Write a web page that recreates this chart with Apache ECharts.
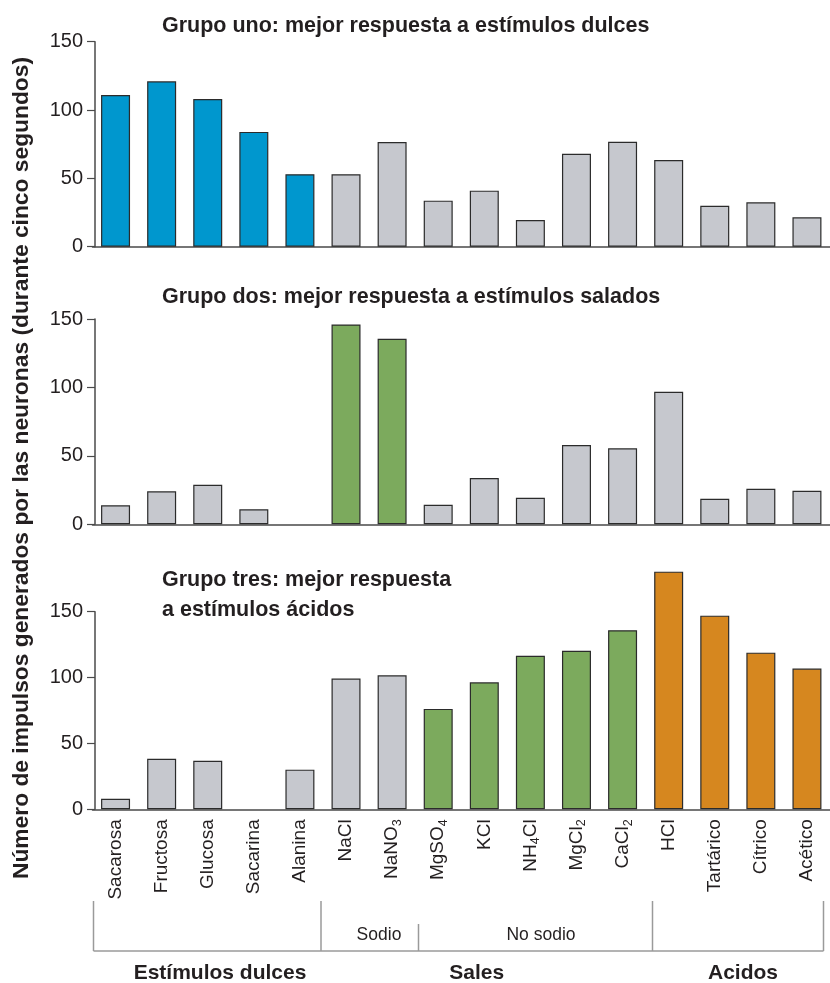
<!DOCTYPE html>
<html>
<head>
<meta charset="utf-8">
<script src="https://cdn.jsdelivr.net/npm/echarts@6/dist/echarts.min.js"></script>
<style>
html,body{margin:0;padding:0;background:#ffffff;}
#chart{width:830px;height:983px;}
</style>
</head>
<body>
<div id="chart"></div>
<script>
// ---------------- DATA ----------------
const categories = ['Sacarosa','Fructosa','Glucosa','Sacarina','Alanina','NaCl','NaNO3','MgSO4','KCl','NH4Cl','MgCl2','CaCl2','HCl','Tartárico','Cítrico','Acético'];
const grupoUno  = [111, 121, 108, 84, 53, 53, 76.6, 33.7, 41, 19.5, 68, 76.8, 63.4, 30, 32.5, 21.5];
const grupoDos  = [13.9, 24.1, 28.9, 11, 0, 146, 135.6, 14.3, 33.8, 19.4, 57.9, 55.5, 96.9, 18.7, 26, 24.5];
const grupoTres = [8, 38.4, 36.9, 0, 30.1, 99.2, 101.7, 76.2, 96.4, 116.6, 120.4, 135.9, 180.4, 147, 118.9, 106.8];
const yTicks = [0, 50, 100, 150];
const titles = [
  'Grupo uno: mejor respuesta a estímulos dulces',
  'Grupo dos: mejor respuesta a estímulos salados',
  'Grupo tres: mejor respuesta\na estímulos ácidos'
];
const yAxisTitle = 'Número de impulsos generados por las neuronas (durante cinco segundos)';
const groupLabels = ['Estímulos dulces', 'Sales', 'Acidos'];
const subGroupLabels = ['Sodio', 'No sodio'];

// ---------------- STYLE ----------------
const FONT = '"Liberation Sans", Arial, Helvetica, sans-serif';
const TXT = '#231f20';
const AX = '#4a4a4a';
const C = {gray:'#c6c8ce', blue:'#0097ce', green:'#7caa5d', orange:'#d6871f'};
// colour role of each category in each panel
const roleUno  = i => i <= 4 ? C.blue : C.gray;
const roleDos  = i => (i === 5 || i === 6) ? C.green : C.gray;
const roleTres = i => i <= 6 ? C.gray : (i <= 11 ? C.green : C.orange);

const gridsLayout = [
  {top: 41.7, height: 205},
  {top: 319, height: 205.3},
  {top: 611.7, height: 197.6}
];

const chart = echarts.init(document.getElementById('chart'), null, {renderer: 'canvas'});

function labelRich(name) {
  return '{n|' + name.replace(/(\d)/g, '}{s|$1}{n|') + '}';
}

const panels = [grupoUno, grupoDos, grupoTres];
const roles = [roleUno, roleDos, roleTres];

const option = {
  animation: false,
  backgroundColor: '#ffffff',
  textStyle: {fontFamily: FONT},
  title: [
    {text: titles[0], left: 162, top: 15.1, padding: 0,
     textStyle: {fontFamily: FONT, fontSize: 21.5, fontWeight: 'bold', color: TXT}},
    {text: titles[1], left: 162, top: 285.8, padding: 0,
     textStyle: {fontFamily: FONT, fontSize: 21.5, fontWeight: 'bold', color: TXT}},
    {text: titles[2], left: 162, top: 565.3, padding: 0,
     textStyle: {fontFamily: FONT, fontSize: 21.5, fontWeight: 'bold', color: TXT, lineHeight: 30}}
  ],
  grid: gridsLayout.map(g => ({left: 92.5, width: 744, top: g.top, height: g.height, containLabel: false})),
  xAxis: [0,1,2].map(i => ({
    type: 'category',
    gridIndex: i,
    data: categories,
    boundaryGap: true,
    axisLine: {show: true, lineStyle: {color: AX, width: 1.5}},
    axisTick: {show: false},
    splitLine: {show: false},
    axisLabel: i === 2 ? {
      show: true, interval: 0, rotate: 90, margin: 10,
      formatter: v => labelRich(v),
      rich: {
        n: {fontFamily: FONT, fontSize: 19, color: TXT, lineHeight: 24},
        s: {fontFamily: FONT, fontSize: 12.5, color: TXT, lineHeight: 12, verticalAlign: 'bottom'}
      }
    } : {show: false}
  })),
  yAxis: [0,1,2].map(i => ({
    type: 'value',
    gridIndex: i,
    min: yTicks[0],
    max: yTicks[yTicks.length - 1],
    interval: yTicks[1] - yTicks[0],
    offset: -2.5,
    axisLine: {show: true, lineStyle: {color: AX, width: 1.5}},
    axisTick: {show: true, length: 8, lineStyle: {color: AX, width: 1.2}},
    splitLine: {show: false},
    axisLabel: {fontFamily: FONT, fontSize: 20, color: TXT, margin: 12}
  })),
  series: panels.map((vals, i) => ({
    type: 'bar',
    xAxisIndex: i,
    yAxisIndex: i,
    barWidth: 29,
    clip: false,
    itemStyle: {borderColor: '#2b2b2b', borderWidth: 1.2},
    data: vals.map((v, k) => ({
      value: v,
      itemStyle: {color: roles[i](k), borderWidth: v === 0 ? 0 : 1.2}
    }))
  })),
  graphic: [
    // Y axis title
    {type: 'text', x: 22, y: 468, rotation: Math.PI / 2,
     style: {text: yAxisTitle, fontFamily: FONT, fontSize: 22.8, fontWeight: 'bold', fill: TXT,
             align: 'center', verticalAlign: 'middle'}},
    // bracket lines
    {type: 'line', shape: {x1: 93.5, y1: 951, x2: 823.5, y2: 951}, style: {stroke: '#9a9a9a', lineWidth: 1.5}},
    {type: 'line', shape: {x1: 93.5, y1: 901, x2: 93.5, y2: 951}, style: {stroke: '#9a9a9a', lineWidth: 1.5}},
    {type: 'line', shape: {x1: 321, y1: 901, x2: 321, y2: 951}, style: {stroke: '#9a9a9a', lineWidth: 1.5}},
    {type: 'line', shape: {x1: 418.5, y1: 924, x2: 418.5, y2: 951}, style: {stroke: '#9a9a9a', lineWidth: 1.5}},
    {type: 'line', shape: {x1: 652.5, y1: 901, x2: 652.5, y2: 951}, style: {stroke: '#9a9a9a', lineWidth: 1.5}},
    {type: 'line', shape: {x1: 823.5, y1: 901, x2: 823.5, y2: 951}, style: {stroke: '#9a9a9a', lineWidth: 1.5}},
    // sub group labels
    {type: 'text', x: 379, y: 935.6, style: {text: subGroupLabels[0], fontFamily: FONT, fontSize: 17.5, fill: TXT, align: 'center', verticalAlign: 'middle'}},
    {type: 'text', x: 541, y: 935.6, style: {text: subGroupLabels[1], fontFamily: FONT, fontSize: 17.5, fill: TXT, align: 'center', verticalAlign: 'middle'}},
    // group labels
    {type: 'text', x: 220, y: 973.7, style: {text: groupLabels[0], fontFamily: FONT, fontSize: 21, fontWeight: 'bold', fill: TXT, align: 'center', verticalAlign: 'middle'}},
    {type: 'text', x: 476.7, y: 973.7, style: {text: groupLabels[1], fontFamily: FONT, fontSize: 21, fontWeight: 'bold', fill: TXT, align: 'center', verticalAlign: 'middle'}},
    {type: 'text', x: 743, y: 973.7, style: {text: groupLabels[2], fontFamily: FONT, fontSize: 21, fontWeight: 'bold', fill: TXT, align: 'center', verticalAlign: 'middle'}}
  ]
};

chart.setOption(option);
</script>
</body>
</html>
